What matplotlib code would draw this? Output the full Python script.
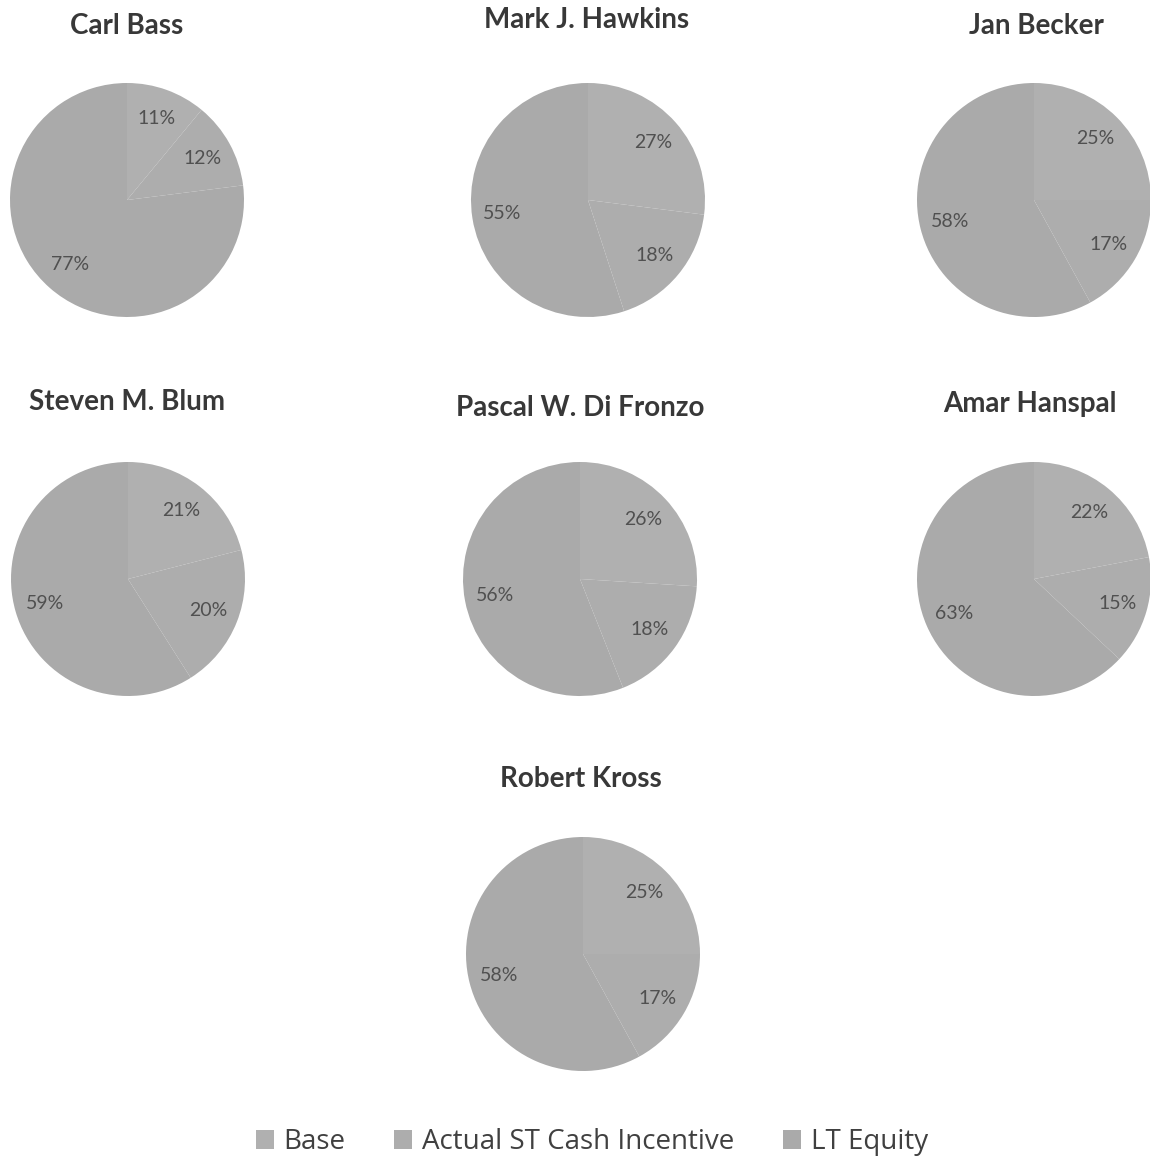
"""Compensation mix pies: Base / ST cash / LT equity per executive."""

import matplotlib
matplotlib.use("Agg")
import matplotlib.pyplot as plt
import matplotlib.patches as mpatches

W, H = 1150, 1160

names = ["Carl Bass", "Mark J. Hawkins", "Jan Becker",
         "Steven M. Blum", "Pascal W. Di Fronzo", "Amar Hanspal",
         "Robert Kross"]
base = [11, 27, 25, 21, 26, 22, 25]
st_cash = [12, 18, 17, 20, 18, 15, 17]
lt_equity = [77, 55, 58, 59, 56, 63, 58]
series = ["Base", "Actual ST Cash Incentive", "LT Equity"]

colors = ["#b0b0b0", "#adadad", "#aaaaaa"]

# pixel layout: pie centre, title position
pie_pos = [(127, 200), (588, 200), (1034, 200),
           (128, 579), (580, 579), (1034, 579),
           (583, 954)]
title_pos = [(127, 26), (587, 20), (1036, 26),
             (127, 402), (580, 408), (1030, 404),
             (581, 779)]
R = 117

fig = plt.figure(figsize=(W / 100, H / 100), dpi=100)
fig.patch.set_facecolor("white")

for i, name in enumerate(names):
    cx, cy = pie_pos[i]
    ax = fig.add_axes([(cx - R) / W, (H - cy - R) / H, 2 * R / W, 2 * R / H])
    vals = [base[i], st_cash[i], lt_equity[i]]
    ax.pie(vals, colors=colors, startangle=90, counterclock=False,
           radius=1.0, autopct=lambda p: f"{round(p):.0f}%", pctdistance=0.74,
           wedgeprops=dict(linewidth=0),
           textprops=dict(color="#505050", fontsize=14, family="Lato"))
    ax.set_xlim(-1, 1)
    ax.set_ylim(-1, 1)
    ax.set_aspect("equal")
    ax.axis("off")

    tx, ty = title_pos[i]
    fig.text(tx / W, 1 - ty / H, name, ha="center", va="center",
             fontsize=20, fontweight="bold", color="#383838", family="Lato")

handles = [mpatches.Patch(facecolor=c, edgecolor="none", label=s)
           for c, s in zip(colors, series)]
fig.legend(handles=handles, loc="center", bbox_to_anchor=(592 / W, 1 - 1142 / H),
           ncol=3, frameon=False, handlelength=0.65, handleheight=0.65,
           handletextpad=0.36, columnspacing=1.75, borderpad=0.1,
           prop=dict(family="Open Sans", size=20), labelcolor="#404040")

fig.savefig("out.png", dpi=100)
plt.close(fig)
